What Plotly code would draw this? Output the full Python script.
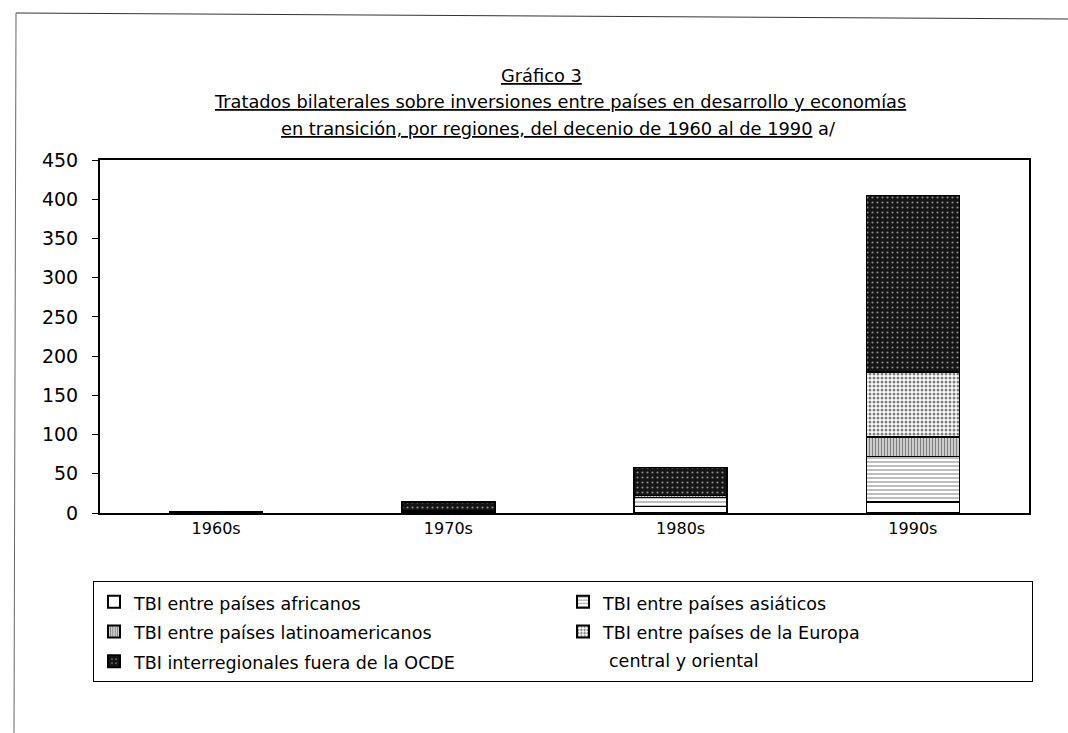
import plotly.graph_objects as go

decades = ["1960s", "1970s", "1980s", "1990s"]
africanos = [0, 1, 8, 14]
asiaticos = [0, 1, 12, 58]
latinoamericanos = [0, 1, 2, 25]
europa = [0, 0, 0, 83]
interregionales = [2, 11, 36, 225]

names = [
    "TBI entre países africanos",
    "TBI entre países asiáticos",
    "TBI entre países latinoamericanos",
    "TBI entre países de la Europa",
    "TBI interregionales fuera de la OCDE",
]
series = [africanos, asiaticos, latinoamericanos, europa, interregionales]
styles = [
    dict(color="#ffffff", pattern=dict(shape="")),
    dict(color="#ffffff", pattern=dict(shape="-", fgcolor="#222222", size=4, solidity=0.3, fillmode="overlay")),
    dict(color="#ffffff", pattern=dict(shape="|", fgcolor="#000000", size=3, solidity=0.6, fillmode="overlay")),
    dict(color="#ffffff", pattern=dict(shape=".", fgcolor="#000000", size=4, solidity=0.45, fillmode="overlay")),
    dict(color="#151515", pattern=dict(shape=".", fgcolor="#ffffff", size=5, solidity=0.15, fillmode="overlay")),
]

FONT = "DejaVu Sans"
fig = go.Figure()
for n, s, st in zip(names, series, styles):
    fig.add_trace(go.Bar(
        x=decades, y=s,
        name='<span style="font-size:17.5px">' + n + '</span>',
        marker=dict(color=st["color"], pattern=st["pattern"],
                    line=dict(color="#000000", width=1.5)),
    ))

W, H = 1068, 733
L, R, T, B = 100, 39, 160, 220
pw, ph = W - L - R, H - T - B

def px(x):
    return (x - L) / pw

def py(y):
    return (H - B - y) / ph

fig.update_layout(
    width=W, height=H,
    barmode="stack", bargap=0.6,
    paper_bgcolor="white", plot_bgcolor="white",
    margin=dict(l=L, r=R, t=T, b=B),
    font=dict(family=FONT, color="#000000"),
    showlegend=True,
    legend=dict(
        orientation="h", traceorder="normal",
        x=px(93), y=py(581), xanchor="left", yanchor="top",
        entrywidth=424, entrywidthmode="pixels",
        bordercolor="#000000", borderwidth=1,
        font=dict(family=FONT, size=20.5),
        itemsizing="constant",
    ),
    xaxis=dict(
        showline=True, linecolor="#000000", linewidth=2, mirror=True,
        ticks="", showgrid=False,
        tickfont=dict(family=FONT, size=16),
    ),
    yaxis=dict(
        range=[0, 450], dtick=50, showgrid=False, zeroline=False,
        showline=True, linecolor="#000000", linewidth=2, mirror=True,
        ticks="outside", ticklen=6, tickcolor="#000000",
        tickfont=dict(family=FONT, size=19),
        ticklabelstandoff=10,
    ),
)

anns = [
    (541, 75, "<u>Gráfico 3</u>"),
    (560, 101, "<u>Tratados bilaterales sobre inversiones entre países en desarrollo y economías</u>"),
    (558, 129, "<u>en transición, por regiones, del decenio de 1960 al de 1990</u> a/"),
]
for x, y, t in anns:
    fig.add_annotation(x=px(x), y=py(y), xref="paper", yref="paper",
                       text=t, showarrow=False, xanchor="center", yanchor="middle",
                       font=dict(family=FONT, size=17.8))

fig.add_annotation(x=px(607), y=py(661), xref="paper", yref="paper",
                   text="central y oriental", showarrow=False,
                   xanchor="left", yanchor="middle",
                   font=dict(family=FONT, size=17.5))

# page border lines from the scanned page
fig.add_shape(type="line", xref="paper", yref="paper",
              x0=px(16), y0=py(13), x1=px(1068), y1=py(19),
              line=dict(color="#333333", width=1))
fig.add_shape(type="line", xref="paper", yref="paper",
              x0=px(16), y0=py(13), x1=px(14), y1=py(733),
              line=dict(color="#666666", width=1))

fig.write_html("out.html", config={"displayModeBar": False},
               post_script="document.body.style.margin='0';")
